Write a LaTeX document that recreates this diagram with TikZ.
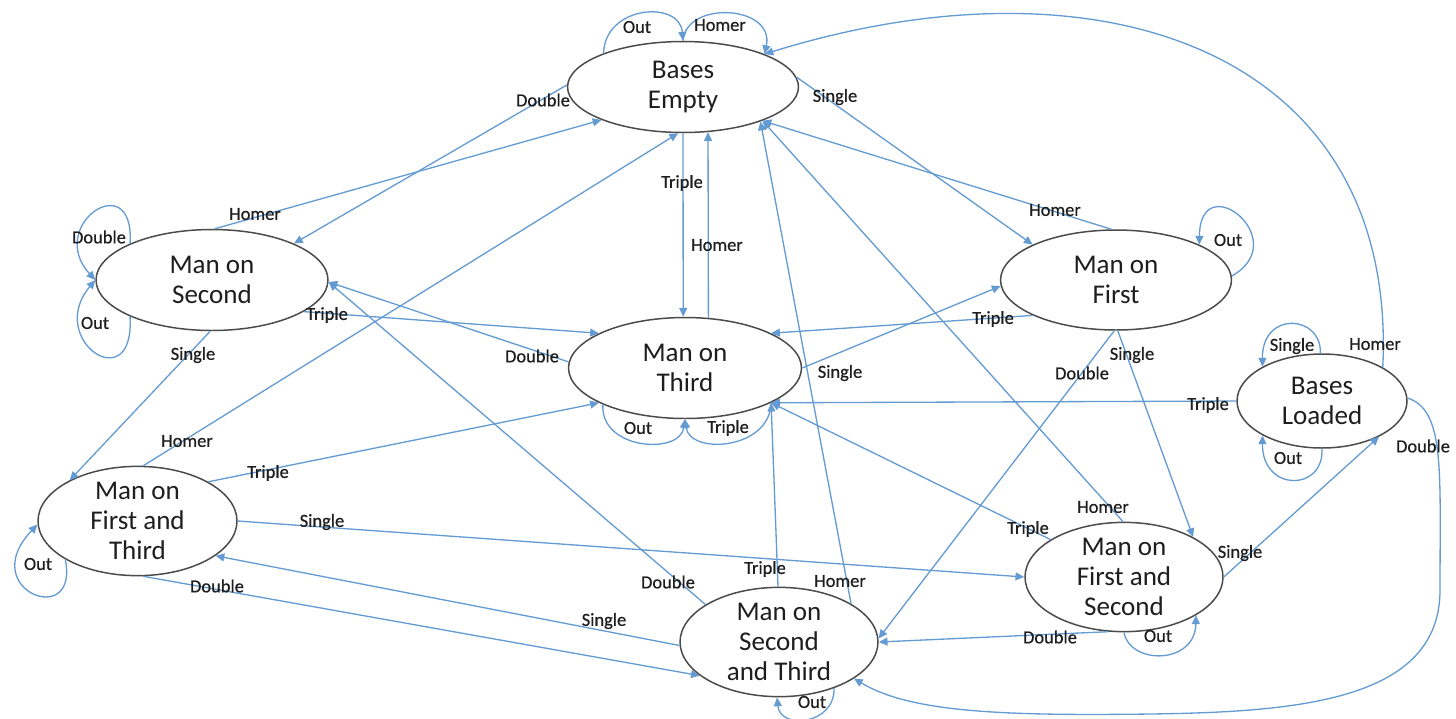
\documentclass[tikz,border=0pt]{standalone}
\usepackage{fontspec}
\setmainfont{Carlito}
\newfontfamily\edgelabelfont[FakeBold=0.6]{Carlito}
\usetikzlibrary{arrows.meta,shapes.geometric}
\definecolor{edgeblue}{RGB}{100,155,210}
\definecolor{rim}{RGB}{75,75,75}
\definecolor{ink}{RGB}{30,30,30}
\begin{document}
\begin{tikzpicture}[x=0.02cm,y=-0.02cm,
  state/.style={ellipse, draw=rim, line width=0.85pt, inner sep=0pt, align=center,
    text=ink, font=\fontsize{15.4}{17}\selectfont},
  tr/.style={draw=edgeblue, line width=0.75pt, -{Triangle[length=5pt,width=4.5pt]}},
  lbl/.style={text=ink, font=\edgelabelfont\fontsize{10.5}{12}\selectfont, inner sep=0pt},
]
\useasboundingbox (0,0) rectangle (1456,718);

% states
\node[state, minimum width=4.62cm, minimum height=1.82cm] (BE)  at (683,87)    {Bases\\Empty};
\node[state, minimum width=4.64cm, minimum height=2.02cm] (MS)  at (212,280)   {Man on\\Second};
\node[state, minimum width=4.62cm, minimum height=2.00cm] (MF)  at (1116,280)  {Man on\\First};
\node[state, minimum width=4.66cm, minimum height=2.02cm] (MT)  at (685,368)   {Man on\\Third};
\node[state, minimum width=3.40cm, minimum height=1.88cm] (BL)  at (1322,401)  {Bases\\Loaded};
\node[state, minimum width=3.98cm, minimum height=2.04cm] (MFT) at (137.5,521) {Man on\\First and\\Third};
\node[state, minimum width=3.96cm, minimum height=2.00cm] (MFS) at (1124,577)  {Man on\\First and\\Second};
\node[state, minimum width=3.96cm, minimum height=2.00cm] (MST) at (779,642)   {Man on\\Second\\and Third};

% Bases Empty
\draw[tr] (BE.157) .. controls (605,5) and (680,0) .. (BE.90);
\draw[tr] (BE.90) .. controls (686,0) and (775,5) .. (BE.22);
\draw[tr] (BE.5) -- (MF.157);
\draw[tr] (BE.179) -- (MS.24);
\draw[tr] (BE.270) -- (MT.92);
\node[lbl] (lBEout)   at (637,27)  {Out};
\node[lbl] (lBEhomer) at (720,25)  {Homer};
\node[lbl] (lBEsgl)   at (835,97)  {Single};
\node[lbl] (lBEdbl)   at (543,100) {Double};
\node[lbl] (lBEtpl)   at (682,183) {Triple};

% Man on Second
\draw[tr] (MS.156) .. controls (135,165) and (45,225) .. (MS.180);
\draw[tr] (MS.204) .. controls (135,400) and (45,340) .. (MS.180);
\draw[tr] (MS.87) -- (BE.202);
\draw[tr] (MS.341) -- (MT.158);
\draw[tr] (MS.268) -- (MFT.149);
\node[lbl] (lMSdbl)   at (99,237)  {Double};
\node[lbl] (lMSout)   at (95,323)  {Out};
\node[lbl] (lMShomer) at (255,214) {Homer};
\node[lbl] (lMStpl)   at (327,315) {Triple};
\node[lbl] (lMSsgl)   at (193,355) {Single};

% Man on First
\draw[tr] (MF.2) .. controls (1295,240) and (1200,165) .. (MF.23);
\draw[tr] (MF.95) -- (BE.337);
\draw[tr] (MF.203) -- (MT.22);
\draw[tr] (MF.272) -- (MFS.30);
\draw[tr] (MF.268) -- (MST.2);
\node[lbl] (lMFout)   at (1228,240) {Out};
\node[lbl] (lMFhomer) at (1055,210) {Homer};
\node[lbl] (lMFtpl)   at (993,319)  {Triple};
\node[lbl] (lMFsgl)   at (1132,355) {Single};
\node[lbl] (lMFdbl)   at (1082,373) {Double};

% Man on Third
\draw[tr] (MT.204) .. controls (600,450) and (680,455) .. (MT.270);
\draw[tr] (MT.338) .. controls (770,450) and (690,455) .. (MT.270);
\draw[tr] (MT.65) -- (BE.299);
\draw[tr] (MT.177) -- (MS.359);
\draw[tr] (MT.0) -- (MF.183);
\node[lbl] (lMTout)   at (638,428) {Out};
\node[lbl] (lMTtpl)   at (728,428) {Triple};
\node[lbl] (lMThomer) at (717,245) {Homer};
\node[lbl] (lMTdbl)   at (532,356) {Double};
\node[lbl] (lMTsgl)   at (840,373) {Single};

% Bases Loaded
\draw[tr] (BL.92) .. controls (1322,315) and (1262,310) .. (BL.150);
\draw[tr] (BL.270) .. controls (1324,492) and (1262,492) .. (BL.210);
\draw[tr] (BL.29) .. controls (1398,50) and (1100,-50) .. (BE.22);
\draw[tr] (BL.180) -- (MT.338);
\draw[tr] (BL.2) .. controls (1445,410) and (1440,470) .. (1440,590)
  .. controls (1440,700) and (1300,712) .. (1150,714)
  .. controls (1000,716) and (910,712) .. (MST.334);
\node[lbl] (lBLsgl)   at (1292,346) {Single};
\node[lbl] (lBLhomer) at (1375,344) {Homer};
\node[lbl] (lBLtpl)   at (1208,405) {Triple};
\node[lbl] (lBLout)   at (1288,458) {Out};
\node[lbl] (lBLdbl)   at (1423,446) {Double};

% Man on First and Third
\draw[tr] (MFT.208) .. controls (80,630) and (-25,590) .. (MFT.182);
\draw[tr] (MFT.84) -- (BE.264);
\draw[tr] (MFT.29) -- (MT.202);
\draw[tr] (MFT.0) -- (MFS.180);
\draw[tr] (MFT.276) -- (MST.203);
\node[lbl] (lMFTout)   at (38,564)  {Out};
\node[lbl] (lMFThomer) at (187,441) {Homer};
\node[lbl] (lMFTtpl)   at (268,473) {Triple};
\node[lbl] (lMFTsgl)   at (322,522) {Single};
\node[lbl] (lMFTdbl)   at (217,586) {Double};

% Man on First and Second
\draw[tr] (MFS.270) .. controls (1130,665) and (1195,665) .. (MFS.332);
\draw[tr] (MFS.91) -- (BE.337);
\draw[tr] (MFS.153) -- (MT.338);
\draw[tr] (MFS.0) -- (BL.328);
\draw[tr] (MFS.254) -- (MST.0);
\node[lbl] (lMFSout)   at (1158,636) {Out};
\node[lbl] (lMFShomer) at (1103,507) {Homer};
\node[lbl] (lMFStpl)   at (1028,529) {Triple};
\node[lbl] (lMFSsgl)   at (1240,553) {Single};
\node[lbl] (lMFSdbl)   at (1050,637) {Double};

% Man on Second and Third
\draw[tr] (MST.320) .. controls (835,725) and (780,730) .. (MST.268);
\draw[tr] (MST.28) -- (BE.336);
\draw[tr] (MST.153) -- (MS.359);
\draw[tr] (MST.91) -- (MT.338);
\draw[tr] (MST.182) -- (MFT.336);
\node[lbl] (lMSTout)   at (812,702) {Out};
\node[lbl] (lMSThomer) at (840,581) {Homer};
\node[lbl] (lMSTtpl)   at (765,569) {Triple};
\node[lbl] (lMSTdbl)   at (668,582) {Double};
\node[lbl] (lMSTsgl)   at (604,621) {Single};
\end{tikzpicture}
\end{document}
